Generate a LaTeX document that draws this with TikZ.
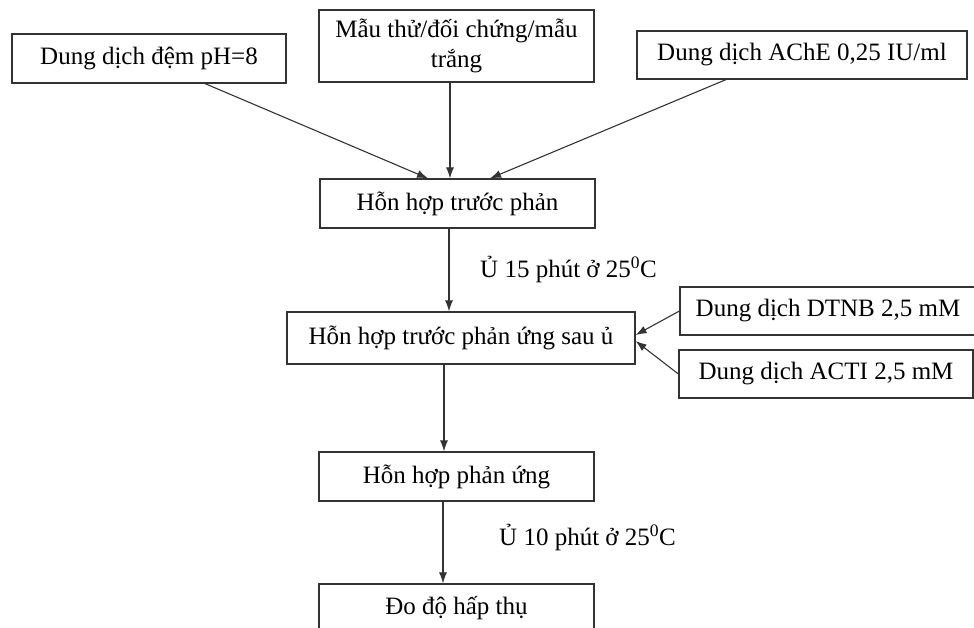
\documentclass[tikz,border=0pt]{standalone}
\usepackage{fontspec}
\setmainfont{Liberation Serif}
\usetikzlibrary{arrows.meta}
\begin{document}
\begin{tikzpicture}[x=1pt,y=-1pt,
  box/.style={draw=black!80,line width=1.2pt,inner sep=0pt,font=\fontsize{25}{30}\selectfont,align=center},
  arr/.style={draw=black!80,line width=1.1pt,-{Latex[length=11pt,width=8pt]}},
  lbl/.style={font=\fontsize{25}{30}\selectfont,anchor=west,inner sep=0pt}]
\useasboundingbox (0,0) rectangle (974,628);
\node[box,minimum width=274pt,minimum height=49pt] (b1) at (149,58.5) {Dung dịch đệm pH=8};
\node[box,minimum width=275pt,minimum height=72pt] (b2) at (456.5,46) {Mẫu thử/đối chứng/mẫu\\trắng};
\node[box,minimum width=330pt,minimum height=48pt] (b3) at (802,55) {Dung dịch AChE 0,25 IU/ml};
\node[box,minimum width=275pt,minimum height=49pt] (b4) at (457.5,203.5) {Hỗn hợp trước phản};
\node[box,minimum width=348pt,minimum height=52pt] (b5) at (461,338) {Hỗn hợp trước phản ứng sau ủ};
\node[box,minimum width=296pt,minimum height=48pt] (dtnb) at (828,311) {Dung dịch DTNB 2,5 mM};
\node[box,minimum width=294pt,minimum height=48pt] (acti) at (826,374) {Dung dịch ACTI 2,5 mM};
\node[box,minimum width=275pt,minimum height=49pt] (b8) at (456.5,476.5) {Hỗn hợp phản ứng};
\node[box,minimum width=275pt,minimum height=49pt] (b9) at (456.5,608.5) {Đo độ hấp thụ};
\node[lbl] (l1) at (480,270) {Ủ 15 phút ở 25\textsuperscript{0}C};
\node[lbl] (l2) at (499,538) {Ủ 10 phút ở 25\textsuperscript{0}C};
\draw[arr] ([xshift=56pt]b1.south) -- ([xshift=-29.5pt]b4.north);
\draw[arr] ([xshift=-6.5pt]b2.south) -- ([xshift=-7.5pt]b4.north);
\draw[arr] ([xshift=-76pt]b3.south) -- ([xshift=32.5pt]b4.north);
\draw[arr] ([xshift=-8.5pt]b4.south) -- ([xshift=-12pt]b5.north);
\draw[arr] (dtnb.west) -- ([yshift=3pt]b5.east);
\draw[arr] (acti.west) -- ([yshift=-3pt]b5.east);
\draw[arr] ([xshift=-17pt]b5.south) -- ([xshift=-12.5pt]b8.north);
\draw[arr] ([xshift=-13.5pt]b8.south) -- ([xshift=-13.5pt]b9.north);
\end{tikzpicture}
\end{document}
